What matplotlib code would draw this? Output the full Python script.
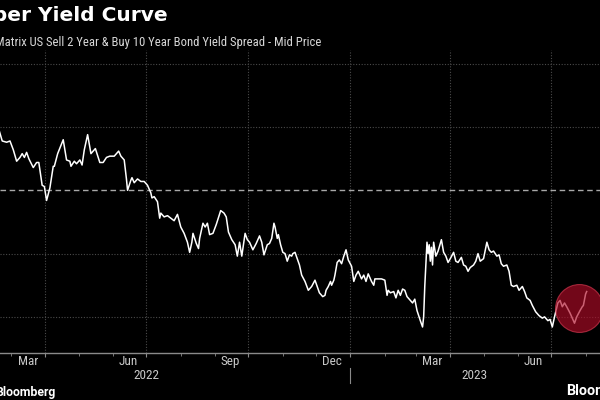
import pandas as pd
import matplotlib.pyplot as plt
import matplotlib.dates as mdates
from matplotlib import font_manager

# 2s10s spread (percentage points)
dates = [
    "2022-02-18", "2022-02-21", "2022-02-25", "2022-02-28", "2022-03-03", "2022-03-06",
    "2022-03-09", "2022-03-11", "2022-03-13", "2022-03-15", "2022-03-17", "2022-03-21",
    "2022-03-24", "2022-03-26", "2022-03-29", "2022-03-31", "2022-04-02", "2022-04-05",
    "2022-04-08", "2022-04-09", "2022-04-12", "2022-04-17", "2022-04-20", "2022-04-23",
    "2022-04-24", "2022-04-27", "2022-04-29", "2022-05-02", "2022-05-04", "2022-05-06",
    "2022-05-09", "2022-05-12", "2022-05-16", "2022-05-20", "2022-05-23", "2022-05-26",
    "2022-05-29", "2022-06-02", "2022-06-04", "2022-06-06", "2022-06-08", "2022-06-11",
    "2022-06-13", "2022-06-14", "2022-06-17", "2022-06-18", "2022-06-20", "2022-06-23",
    "2022-06-26", "2022-06-29", "2022-07-02", "2022-07-05", "2022-07-06", "2022-07-08",
    "2022-07-11", "2022-07-13", "2022-07-14", "2022-07-17", "2022-07-20", "2022-07-23",
    "2022-07-26", "2022-07-29", "2022-08-01", "2022-08-04", "2022-08-07", "2022-08-09",
    "2022-08-11", "2022-08-12", "2022-08-15", "2022-08-17", "2022-08-18", "2022-08-21",
    "2022-08-23", "2022-08-25", "2022-08-27", "2022-08-30", "2022-09-02", "2022-09-06",
    "2022-09-09", "2022-09-11", "2022-09-13", "2022-09-16", "2022-09-19", "2022-09-21",
    "2022-09-23", "2022-09-25", "2022-09-28", "2022-09-30", "2022-10-02", "2022-10-05",
    "2022-10-08", "2022-10-11", "2022-10-13", "2022-10-15", "2022-10-18", "2022-10-20",
    "2022-10-22", "2022-10-24", "2022-10-25", "2022-10-27", "2022-10-28", "2022-10-30",
    "2022-11-01", "2022-11-03", "2022-11-05", "2022-11-07", "2022-11-09", "2022-11-10",
    "2022-11-12", "2022-11-14", "2022-11-16", "2022-11-18", "2022-11-21", "2022-11-24",
    "2022-11-27", "2022-11-30", "2022-12-02", "2022-12-04", "2022-12-07", "2022-12-09",
    "2022-12-10", "2022-12-12", "2022-12-14", "2022-12-15", "2022-12-17", "2022-12-18",
    "2022-12-20", "2022-12-22", "2022-12-24", "2022-12-26", "2022-12-28", "2022-12-30",
    "2023-01-02", "2023-01-04", "2023-01-06", "2023-01-08", "2023-01-11", "2023-01-13",
    "2023-01-15", "2023-01-17", "2023-01-20", "2023-01-22", "2023-01-23", "2023-01-26",
    "2023-01-29", "2023-02-01", "2023-02-03", "2023-02-04", "2023-02-06", "2023-02-09",
    "2023-02-11", "2023-02-13", "2023-02-15", "2023-02-17", "2023-02-19", "2023-02-21",
    "2023-02-24", "2023-02-26", "2023-02-28", "2023-03-02", "2023-03-05", "2023-03-07",
    "2023-03-08", "2023-03-09", "2023-03-11", "2023-03-12", "2023-03-13", "2023-03-14",
    "2023-03-15", "2023-03-16", "2023-03-17", "2023-03-19", "2023-03-21", "2023-03-24",
    "2023-03-26", "2023-03-28", "2023-03-30", "2023-04-01", "2023-04-04", "2023-04-06",
    "2023-04-08", "2023-04-11", "2023-04-13", "2023-04-15", "2023-04-17", "2023-04-19",
    "2023-04-22", "2023-04-24", "2023-04-26", "2023-04-28", "2023-05-01", "2023-05-04",
    "2023-05-06", "2023-05-08", "2023-05-10", "2023-05-13", "2023-05-15", "2023-05-17",
    "2023-05-19", "2023-05-22", "2023-05-24", "2023-05-26", "2023-05-28", "2023-05-31",
    "2023-06-02", "2023-06-05", "2023-06-07", "2023-06-09", "2023-06-12", "2023-06-14",
    "2023-06-17", "2023-06-20", "2023-06-23", "2023-06-25", "2023-06-28", "2023-06-30",
    "2023-07-02", "2023-07-04", "2023-07-07", "2023-07-09", "2023-07-11", "2023-07-13",
    "2023-07-15", "2023-07-18", "2023-07-20", "2023-07-22", "2023-07-24", "2023-07-27",
    "2023-07-29", "2023-07-30", "2023-08-01", "2023-08-02",
]
spread = [
    0.48, 0.39, 0.38, 0.39, 0.32, 0.23,
    0.26, 0.29, 0.26, 0.30, 0.25, 0.18,
    0.22, 0.22, 0.04, 0.03, -0.08, 0.02,
    0.19, 0.19, 0.29, 0.40, 0.24, 0.23,
    0.19, 0.23, 0.21, 0.24, 0.20, 0.32,
    0.44, 0.29, 0.33, 0.22, 0.22, 0.26,
    0.27, 0.27, 0.29, 0.31, 0.27, 0.24,
    0.09, 0.00, 0.08, 0.10, 0.06, 0.09,
    0.07, 0.07, 0.04, -0.02, -0.06, -0.05,
    -0.09, -0.22, -0.18, -0.21, -0.20, -0.22,
    -0.24, -0.19, -0.29, -0.34, -0.41, -0.49,
    -0.41, -0.34, -0.42, -0.46, -0.38, -0.26,
    -0.29, -0.26, -0.35, -0.34, -0.27, -0.16,
    -0.18, -0.21, -0.33, -0.39, -0.43, -0.52,
    -0.41, -0.52, -0.34, -0.39, -0.41, -0.47,
    -0.42, -0.36, -0.41, -0.51, -0.43, -0.42,
    -0.38, -0.26, -0.29, -0.38, -0.35, -0.43,
    -0.49, -0.50, -0.56, -0.51, -0.52, -0.50,
    -0.49, -0.54, -0.59, -0.67, -0.72, -0.79,
    -0.76, -0.71, -0.76, -0.81, -0.84, -0.83,
    -0.79, -0.76, -0.72, -0.75, -0.71, -0.67,
    -0.57, -0.55, -0.58, -0.52, -0.47, -0.55,
    -0.60, -0.72, -0.67, -0.64, -0.70, -0.67,
    -0.72, -0.66, -0.72, -0.75, -0.70, -0.70,
    -0.70, -0.71, -0.83, -0.79, -0.81, -0.80,
    -0.85, -0.79, -0.83, -0.78, -0.79, -0.84,
    -0.87, -0.89, -0.86, -0.95, -1.03, -1.08,
    -1.00, -0.76, -0.41, -0.50, -0.43, -0.56,
    -0.45, -0.59, -0.41, -0.52, -0.48, -0.39,
    -0.49, -0.52, -0.57, -0.54, -0.49, -0.56,
    -0.57, -0.53, -0.59, -0.60, -0.64, -0.61,
    -0.59, -0.56, -0.50, -0.56, -0.54, -0.41,
    -0.47, -0.49, -0.48, -0.52, -0.51, -0.58,
    -0.60, -0.59, -0.64, -0.75, -0.76, -0.75,
    -0.79, -0.76, -0.80, -0.85, -0.87, -0.91,
    -0.96, -0.99, -1.01, -1.00, -1.03, -1.02,
    -1.08, -1.00, -0.89, -0.87, -0.92, -0.89,
    -0.92, -0.97, -1.01, -1.05, -1.00, -0.95,
    -0.92, -0.91, -0.82, -0.80,
]

month_labels = ["Mar", "Jun", "Sep", "Dec", "Mar", "Jun"]
month_label_dates = ["2022-03-16", "2022-06-15", "2022-09-15", "2022-12-15", "2023-03-16", "2023-06-15"]
year_labels = ["2022", "2023"]
year_label_dates = ["2022-07-01", "2023-04-23"]
gridlines_y = [-1.0, -0.5, 0.5, 1.0]

# Bloomberg's chart font is narrow; use a condensed face when one is installed
fonts = font_manager.fontManager.ttflist
names = {f.name for f in fonts}
STRETCH = "normal"
if "Roboto Condensed" in names:
    FONT = "Roboto Condensed"
elif "Liberation Sans Narrow" in names:
    FONT = "Liberation Sans Narrow"
elif any(f.name == "DejaVu Sans" and f.stretch == "condensed" for f in fonts):
    FONT, STRETCH = "DejaVu Sans", "condensed"
else:
    FONT = "Roboto"
plt.rcParams["font.family"] = [FONT, "DejaVu Sans"]
plt.rcParams["font.stretch"] = STRETCH

df = pd.DataFrame({"date": pd.to_datetime(dates), "spread": spread})

fig = plt.figure(figsize=(6, 4), dpi=100, facecolor="black")
ax = fig.add_axes([0, 0.118, 1, 0.757], facecolor="black")

ax.plot(df["date"], df["spread"], color="white", lw=1.1, zorder=3)
ax.axhline(0, color="#a8a8a8", lw=1, dashes=(4, 2.6), zorder=2)

# highlight circle around the latest steepening
ax.scatter(pd.Timestamp("2023-07-26"), -0.93, s=1190, color="#b00c28", alpha=0.65,
           edgecolors="#d83a52", linewidths=0.8, zorder=4)

ax.set_xlim(pd.Timestamp("2022-02-19"), pd.Timestamp("2023-08-14"))
ax.set_ylim(-1.284, 1.109)

ax.set_yticks(gridlines_y)
ax.yaxis.grid(True, color="#4a4a4a", lw=0.8, linestyle=(0, (1, 1.5)))
ax.tick_params(axis="y", left=False, labelleft=False)

ax.xaxis.set_major_locator(mdates.MonthLocator(bymonth=[1, 4, 7, 10]))
ax.xaxis.set_minor_locator(mdates.MonthLocator())
ax.xaxis.grid(True, which="major", color="#4a4a4a", lw=0.8, linestyle=(0, (1, 1.5)))
ax.tick_params(axis="x", which="major", length=3, color="#8a8a8a", labelbottom=False)
ax.tick_params(axis="x", which="minor", length=2, color="#8a8a8a")

for side in ["top", "left", "right"]:
    ax.spines[side].set_visible(False)
ax.spines["bottom"].set_color("#8a8a8a")
ax.spines["bottom"].set_linewidth(1)

tr = ax.get_xaxis_transform()
for lab, d in zip(month_labels, month_label_dates):
    ax.text(pd.Timestamp(d), -0.03, lab, transform=tr, ha="center", va="center",
            color="#c8c8c8", fontsize=9.5)
for lab, d in zip(year_labels, year_label_dates):
    ax.text(pd.Timestamp(d), -0.076, lab, transform=tr, ha="center", va="center",
            color="#c8c8c8", fontsize=9.5)
ax.plot([pd.Timestamp("2023-01-01")] * 2, [-0.05, -0.10], transform=tr,
        color="#8a8a8a", lw=0.8, clip_on=False)

fig.text(0.28, 0.948, "Steeper Yield Curve", ha="right", va="baseline",
         color="white", fontsize=14.5, fontweight="bold", family="DejaVu Sans")
fig.text(0.535, 0.886, "Market Matrix US Sell 2 Year & Buy 10 Year Bond Yield Spread - Mid Price",
         ha="right", va="baseline", color="#d8d8d8", fontsize=9.1)
fig.text(-0.008, 0.011, "Bloomberg", ha="left", va="baseline", color="white",
         fontsize=8.8, fontweight="bold", family="Roboto", stretch="normal")
fig.text(0.943, 0.012, "Bloomberg", ha="left", va="baseline", color="white",
         fontsize=10.4, fontweight="bold", family="Roboto", stretch="normal")

fig.savefig("out.png", dpi=100, facecolor="black")
